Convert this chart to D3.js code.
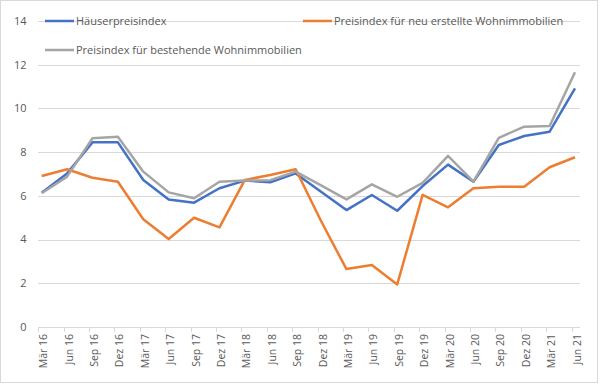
<!DOCTYPE html>
<html>
<head>
<meta charset="utf-8">
<script src="https://cdn.jsdelivr.net/npm/d3@7"></script>
<style>
  body { margin: 0; background: #fff; }
  svg { display: block; font-family: "Open Sans", "Noto Sans", sans-serif; }
</style>
</head>
<body>
<div id="chart"></div>
<script>
// Quartale
const quarters = ["Mär 16","Jun 16","Sep 16","Dez 16","Mär 17","Jun 17","Sep 17","Dez 17",
  "Mär 18","Jun 18","Sep 18","Dez 18","Mär 19","Jun 19","Sep 19","Dez 19",
  "Mär 20","Jun 20","Sep 20","Dez 20","Mär 21","Jun 21"];

const haeuser = [6.15,7.03,8.45,8.45,6.73,5.84,5.69,6.35,6.7,6.62,7.03,6.19,5.35,6.04,5.32,6.45,7.43,6.65,8.33,8.74,8.94,10.92];
const neu = [6.91,7.22,6.83,6.65,4.93,4.03,5.0,4.56,6.73,6.96,7.22,4.85,2.65,2.84,1.95,6.05,5.48,6.35,6.42,6.42,7.31,7.77];
const bestehend = [6.12,6.88,8.64,8.71,7.11,6.16,5.89,6.65,6.7,6.72,7.11,6.48,5.84,6.53,5.96,6.6,7.83,6.65,8.66,9.17,9.2,11.66];

const yTicks = [0,2,4,6,8,10,12,14];

const series = [
  { name: "Häuserpreisindex", values: haeuser, color: "#4472C4" },
  { name: "Preisindex für neu erstellte Wohnimmobilien", values: neu, color: "#ED7D31" },
  { name: "Preisindex für bestehende Wohnimmobilien", values: bestehend, color: "#A5A5A5" }
];

const width = 600, height = 385;
const svg = d3.select("#chart").append("svg")
  .attr("width", width).attr("height", height);

// Rahmen
svg.append("rect")
  .attr("x", 0.5).attr("y", 0.5)
  .attr("width", 597).attr("height", 382)
  .attr("fill", "#fff").attr("stroke", "#d9d9d9");

const x = d3.scalePoint().domain(quarters).range([41.7, 575]);
const y = d3.scaleLinear().domain([0, 14]).range([327, 21.1]);

// Gitterlinien
svg.append("g")
  .selectAll("line")
  .data(yTicks.filter(d => d > 0))
  .join("line")
  .attr("x1", 38).attr("x2", 580)
  .attr("y1", d => Math.round(y(d)) + 0.5)
  .attr("y2", d => Math.round(y(d)) + 0.5)
  .attr("stroke", "#d9d9d9");

// y-Achse Beschriftung
svg.append("g")
  .selectAll("text")
  .data(yTicks)
  .join("text")
  .attr("x", 26.5)
  .attr("y", d => y(d))
  .attr("dy", "0.35em")
  .attr("text-anchor", "end")
  .attr("fill", "#595959")
  .attr("font-size", 11)
  .text(d => d);

// x-Achse
const xAxis = svg.append("g");
xAxis.append("line")
  .attr("x1", 38).attr("x2", 580)
  .attr("y1", Math.round(y(0)) + 0.5).attr("y2", Math.round(y(0)) + 0.5)
  .attr("stroke", "#d9d9d9");

xAxis.selectAll("line.tick")
  .data(quarters)
  .join("line")
  .attr("class", "tick")
  .attr("x1", d => Math.round(x(d) - 3.4) + 0.5)
  .attr("x2", d => Math.round(x(d) - 3.4) + 0.5)
  .attr("y1", Math.round(y(0)))
  .attr("y2", Math.round(y(0)) + 5)
  .attr("stroke", "#d9d9d9");

xAxis.selectAll("text")
  .data(quarters)
  .join("text")
  .attr("transform", d => `translate(${x(d) + 5.5},334) rotate(-90)`)
  .attr("text-anchor", "end")
  .attr("fill", "#595959")
  .attr("font-size", 10.5)
  .text(d => d);

// Linien
const line = d3.line()
  .x((d, i) => x(quarters[i]))
  .y(d => y(d));

svg.append("g")
  .selectAll("path")
  .data(series)
  .join("path")
  .attr("d", d => line(d.values))
  .attr("fill", "none")
  .attr("stroke", d => d.color)
  .attr("stroke-width", 2.5)
  .attr("stroke-linejoin", "round");

// Legende
const legendPos = [
  { x: 45, y: 21 },
  { x: 303, y: 21 },
  { x: 45, y: 50 }
];

const legend = svg.append("g")
  .selectAll("g")
  .data(series)
  .join("g")
  .attr("transform", (d, i) => `translate(${legendPos[i].x},${legendPos[i].y})`);

legend.append("line")
  .attr("x1", 0).attr("x2", 29)
  .attr("stroke", d => d.color)
  .attr("stroke-width", 2.5);

legend.append("text")
  .attr("x", 31)
  .attr("dy", "0.35em")
  .attr("fill", "#595959")
  .attr("font-size", 11)
  .text(d => d.name);
</script>
</body>
</html>
